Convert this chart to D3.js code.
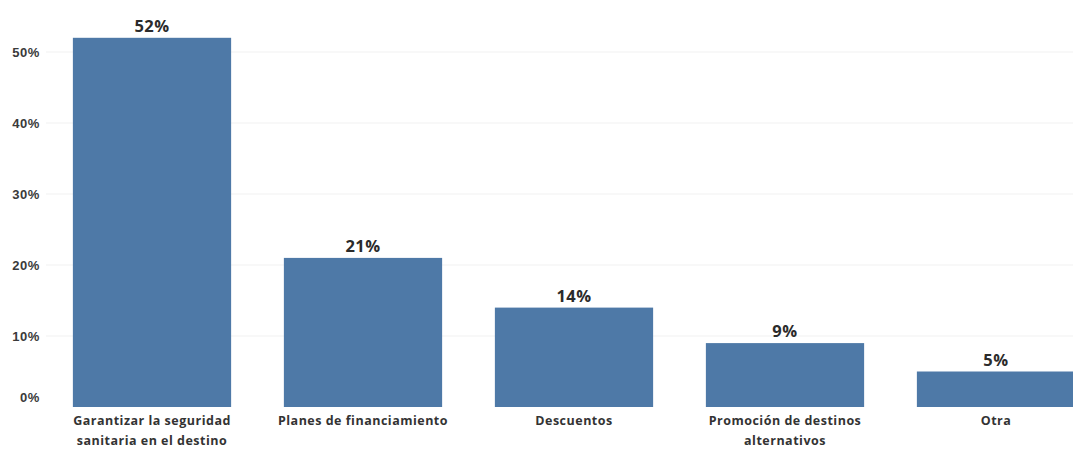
<!DOCTYPE html>
<html>
<head>
<meta charset="utf-8">
<script src="https://cdn.jsdelivr.net/npm/d3@7"></script>
<style>
  html, body { margin: 0; padding: 0; background: #fff; }
  svg { display: block; font-family: "Open Sans", "Noto Sans", sans-serif; }
</style>
</head>
<body>
<svg id="chart" width="1073" height="449"></svg>
<script>
// Medidas preferidas para reactivar los viajes (% de respuestas)
const categories = [
  ["Garantizar la seguridad", "sanitaria en el destino"],
  ["Planes de financiamiento"],
  ["Descuentos"],
  ["Promoción de destinos", "alternativos"],
  ["Otra"]
];
const values = [52, 21, 14, 9, 5];
const yTicks = [0, 10, 20, 30, 40, 50];

const W = 1073, H = 449;
const svg = d3.select("#chart");

const x = d3.scaleBand()
  .domain(d3.range(categories.length))
  .range([46.5, 1101.5])
  .paddingInner(0.25)
  .paddingOuter(0.125);

const y = d3.scaleLinear().domain([0, 50]).range([407, 52]);

// Líneas de cuadrícula horizontales
svg.append("g")
  .selectAll("line")
  .data(yTicks.filter(d => d > 0))
  .join("line")
  .attr("x1", 46).attr("x2", W)
  .attr("y1", d => y(d)).attr("y2", d => y(d))
  .attr("stroke", "#f1f1f1")
  .attr("stroke-width", 1);

// Eje vertical
const yAxis = svg.append("g")
  .attr("transform", "translate(40,0)")
  .call(d3.axisLeft(y).tickValues(yTicks).tickFormat(d => d + "%").tickSize(0).tickPadding(0));
yAxis.select(".domain").remove();
yAxis.selectAll("text")
  .attr("fill", "#3a3a3a")
  .attr("font-size", 13)
  .attr("font-weight", 700)
  .attr("letter-spacing", "0.6px")
  .attr("dy", d => d === 0 ? "-0.4em" : "0.32em");

// Barras
svg.append("g")
  .selectAll("rect")
  .data(values)
  .join("rect")
  .attr("x", (d, i) => x(i))
  .attr("width", x.bandwidth())
  .attr("y", d => y(d))
  .attr("height", d => y(0) - y(d))
  .attr("fill", "#4e79a7");

// Etiquetas de valor
svg.append("g")
  .selectAll("text")
  .data(values)
  .join("text")
  .attr("x", (d, i) => x(i) + x.bandwidth() / 2)
  .attr("y", d => y(d) - 6)
  .attr("text-anchor", "middle")
  .attr("font-size", 16.5)
  .attr("font-weight", 700)
  .attr("letter-spacing", "0.5px")
  .attr("fill", "#2b2b2b")
  .text(d => d + "%");

// Etiquetas de categoría
const cat = svg.append("g")
  .selectAll("text")
  .data(categories)
  .join("text")
  .attr("x", (d, i) => x(i) + x.bandwidth() / 2)
  .attr("y", 425)
  .attr("text-anchor", "middle")
  .attr("font-size", 12.5)
  .attr("font-weight", 700)
  .attr("letter-spacing", "0.5px")
  .attr("fill", "#333");
cat.selectAll("tspan")
  .data(d => d)
  .join("tspan")
  .attr("x", function() { return d3.select(this.parentNode).attr("x"); })
  .attr("dy", (d, i) => i === 0 ? 0 : 20)
  .text(d => d);
</script>
</body>
</html>
